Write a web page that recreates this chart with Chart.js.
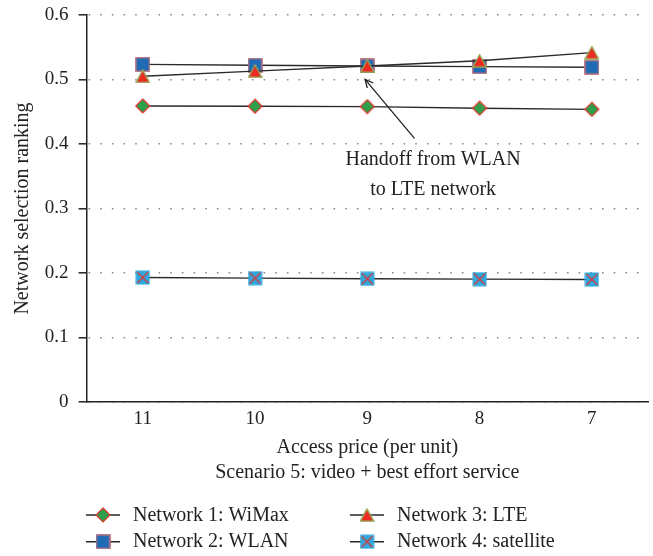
<!DOCTYPE html>
<html>
<head>
<meta charset="utf-8">
<script src="https://cdn.jsdelivr.net/npm/chart.js@4/dist/chart.umd.min.js"></script>
<style>
  html, body { margin: 0; padding: 0; background: #ffffff; }
  #wrap { width: 653px; height: 556px; }
</style>
</head>
<body>
<div id="wrap"><canvas id="c" width="653" height="556"></canvas></div>
<script>
// ---------------- data ----------------
const categories = ['11', '10', '9', '8', '7'];
const wimax = [0.459, 0.4585, 0.458, 0.4555, 0.4537];
const wlan = [0.5235, 0.522, 0.521, 0.520, 0.519];
const lte = [0.505, 0.513, 0.521, 0.529, 0.5416];
const satellite = [0.193, 0.192, 0.191, 0.1905, 0.190];
const seriesNames = ['Network 1: WiMax', 'Network 2: WLAN', 'Network 3: LTE', 'Network 4: satellite'];
const yTickMin = 0, yTickMax = 0.6, yTickStep = 0.1;
const xTitle = 'Access price (per unit)';
const yTitle = 'Network selection ranking';
const scenarioText = 'Scenario 5: video + best effort service';
const noteLines = ['Handoff from WLAN', 'to LTE network'];
// annotation anchors in data space (category index, value)
const arrowTip = [1.98, 0.5003];
const arrowTail = [2.42, 0.4088];
const noteAnchor = [2.586, 0.3674, 0.3209];

const FONT = '"Liberation Serif", "Times New Roman", serif';

// ---------------- marker images ----------------
function mk(w, h, draw) {
  const c = document.createElement('canvas');
  c.width = w; c.height = h;
  draw(c.getContext('2d'));
  return c;
}
const imgDiamond = mk(16, 16, g => {
  g.beginPath();
  g.moveTo(8, 1); g.lineTo(15, 8); g.lineTo(8, 15); g.lineTo(1, 8); g.closePath();
  g.fillStyle = '#2e9f4c'; g.fill();
  g.lineWidth = 1.2; g.strokeStyle = '#e8322c'; g.stroke();
});
const imgSquare = mk(15, 15, g => {
  g.fillStyle = '#1f6cb4'; g.fillRect(0.5, 0.5, 14, 14);
  g.lineWidth = 1.2; g.strokeStyle = '#cf6f76'; g.strokeRect(0.8, 0.8, 13.4, 13.4);
});
const imgTriangle = mk(15, 14, g => {
  g.beginPath();
  g.moveTo(7.5, 0.8); g.lineTo(14.2, 13.2); g.lineTo(0.8, 13.2); g.closePath();
  g.fillStyle = '#ec2a22'; g.fill();
  g.lineWidth = 1.3; g.strokeStyle = '#93ad5a'; g.stroke();
});
const imgSat = mk(15, 15, g => {
  g.fillStyle = '#2ea8df'; g.fillRect(0.5, 0.5, 14, 14);
  g.beginPath();
  g.moveTo(2, 2); g.lineTo(13, 13); g.moveTo(13, 2); g.lineTo(2, 13);
  g.lineWidth = 1.2; g.strokeStyle = '#e2332f'; g.stroke();
});
const markerImgs = [imgDiamond, imgSquare, imgTriangle, imgSat];

const LINE_COLOR = '#2a2a2a';

function ds(label, data, img, order) {
  return {
    label, data, order,
    borderColor: LINE_COLOR, borderWidth: 1.4, tension: 0,
    pointStyle: img, pointRadius: 7, pointHoverRadius: 7,
    backgroundColor: LINE_COLOR, fill: false
  };
}

// ---------------- plugins ----------------
const annotationPlugin = {
  id: 'handoffNote',
  afterDatasetsDraw(chart) {
    const g = chart.ctx, xs = chart.scales.x, ys = chart.scales.y;
    const tx = xs.getPixelForValue(arrowTip[0]), ty = ys.getPixelForValue(arrowTip[1]);
    const sx = xs.getPixelForValue(arrowTail[0]), sy = ys.getPixelForValue(arrowTail[1]);
    g.save();
    g.strokeStyle = '#222'; g.lineWidth = 1.3;
    g.beginPath(); g.moveTo(sx, sy); g.lineTo(tx, ty); g.stroke();
    const ang = Math.atan2(ty - sy, tx - sx), L = 9, a = 0.45;
    g.beginPath();
    g.moveTo(tx - L * Math.cos(ang - a), ty - L * Math.sin(ang - a));
    g.lineTo(tx, ty);
    g.lineTo(tx - L * Math.cos(ang + a), ty - L * Math.sin(ang + a));
    g.stroke();
    g.fillStyle = '#222';
    g.font = '20px ' + FONT;
    g.textAlign = 'center'; g.textBaseline = 'alphabetic';
    const cx = xs.getPixelForValue(noteAnchor[0]);
    g.fillText(noteLines[0], cx, ys.getPixelForValue(noteAnchor[1]));
    g.fillText(noteLines[1], cx, ys.getPixelForValue(noteAnchor[2]));
    g.restore();
  }
};

const legendPlugin = {
  id: 'gridLegend',
  afterDraw(chart) {
    const g = chart.ctx;
    const H = chart.height;
    const colX = [86, 350];        // icon line start
    const rowY = [H - 41, H - 14.3]; // marker centres
    g.save();
    g.font = '20px ' + FONT;
    g.fillStyle = '#222';
    g.textAlign = 'left'; g.textBaseline = 'alphabetic';
    seriesNames.forEach((name, i) => {
      const col = i < 2 ? 0 : 1;
      const row = i % 2;
      const x0 = colX[col], y = rowY[row];
      g.strokeStyle = LINE_COLOR; g.lineWidth = 1.4;
      g.beginPath(); g.moveTo(x0, y); g.lineTo(x0 + 34, y); g.stroke();
      const im = markerImgs[i];
      g.drawImage(im, x0 + 17 - im.width / 2, y - im.height / 2);
      g.fillText(name, x0 + 47, y + 5.7);
    });
    g.restore();
  }
};

// ---------------- chart ----------------
new Chart(document.getElementById('c'), {
  type: 'line',
  data: {
    labels: categories,
    datasets: [
      ds(seriesNames[0], wimax, imgDiamond, 1),
      ds(seriesNames[1], wlan, imgSquare, 3),
      ds(seriesNames[2], lte, imgTriangle, 2),
      ds(seriesNames[3], satellite, imgSat, 4)
    ]
  },
  options: {
    responsive: false,
    animation: false,
    devicePixelRatio: 1,
    layout: { autoPadding: false, padding: { top: 15, right: 5, left: 0, bottom: 71 } },
    plugins: {
      legend: { display: false },
      tooltip: { enabled: false },
      title: {
        display: true, text: scenarioText, position: 'bottom', fullSize: false,
        color: '#222', font: { family: FONT, size: 20, weight: 'normal', lineHeight: 1.2 },
        padding: { top: 1.4, bottom: 0 }
      }
    },
    scales: {
      x: {
        offset: true,
        grid: { display: false, drawTicks: false, tickLength: 0 },
        border: { display: true, color: '#222', width: 1.5 },
        ticks: { color: '#222', padding: 6, font: { family: FONT, size: 19, lineHeight: 1.2 } },
        afterFit(scale) { scale.height = 57.6; scale.paddingLeft = 0; scale.paddingRight = 0; },
        title: {
          display: true, text: xTitle, color: '#222',
          font: { family: FONT, size: 20, lineHeight: 1.2 },
          padding: { top: 0, bottom: 0 }
        }
      },
      y: {
        min: yTickMin, max: yTickMax,
        afterFit(scale) { scale.width = 86.6; scale.paddingTop = 0; scale.paddingBottom = 0; },
        grid: {
          display: true, drawOnChartArea: true, drawTicks: true, tickLength: 8,
          color: '#8a8a8a', lineWidth: 1.6,
          tickColor: '#222', tickWidth: 1.5
        },
        border: { display: true, color: '#222', width: 1.5, dash: [1.6, 10.07], dashOffset: 10.67 },
        ticks: {
          stepSize: yTickStep, color: '#222', padding: 10,
          font: { family: FONT, size: 19, lineHeight: 1.2 }
        },
        title: {
          display: true, text: yTitle, color: '#222',
          font: { family: FONT, size: 20, lineHeight: 1.2 },
          padding: { top: 11, bottom: 0 }
        }
      }
    }
  },
  plugins: [annotationPlugin, legendPlugin]
});
</script>
</body>
</html>
